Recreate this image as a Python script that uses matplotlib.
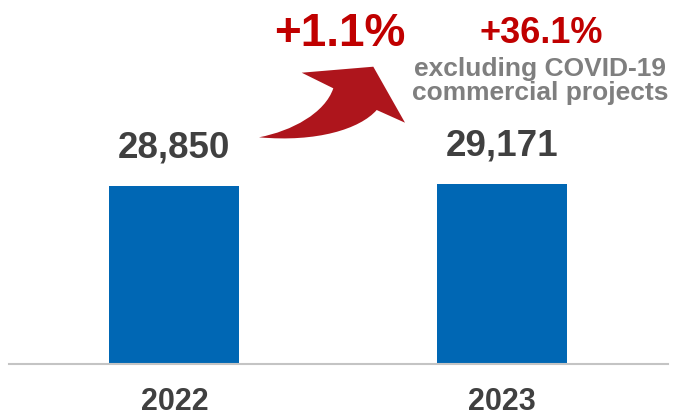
import numpy as np
import matplotlib
matplotlib.use("Agg")
import matplotlib.pyplot as plt
from matplotlib.path import Path
from matplotlib.patches import PathPatch

plt.rcParams["font.family"] = ["Liberation Sans", "DejaVu Sans"]
plt.rcParams["font.weight"] = "bold"

# ---------------------------------------------------------------------------
# Data
# ---------------------------------------------------------------------------
years = ["2022", "2023"]
values = [28850, 29171]
value_labels = ["28,850", "29,171"]
growth_label = "+1.1%"
growth_ex_label = "+36.1%"
note_lines = ["excluding COVID-19", "commercial projects"]

BLUE = "#0067B4"
RED = "#C00000"
ARROW_RED = "#AE151C"
GREY = "#7F7F7F"
DARK = "#404040"

W, H = 676, 417
fig = plt.figure(figsize=(W / 100, H / 100), dpi=100)
ax = fig.add_axes([9 / W, 53 / H, 659 / W, 364 / H])

x = np.arange(len(years))
bars = ax.bar(x, values, width=0.397, color=BLUE)

ax.set_xlim(-0.505, 1.507)
ax.set_ylim(0, 59000)
ax.set_xticks(x)
ax.set_xticklabels(years, fontsize=22, fontweight="bold", color=DARK)
ax.tick_params(axis="x", length=0, pad=16.5)
ax.set_yticks([])
for side in ["top", "left", "right"]:
    ax.spines[side].set_visible(False)
ax.spines["bottom"].set_color("#C4C4C4")
ax.spines["bottom"].set_linewidth(1.5)

for b, lab in zip(bars, value_labels):
    ax.annotate(lab, (b.get_x() + b.get_width() / 2, b.get_height()),
                xytext=(0, 15), textcoords="offset points",
                ha="center", va="bottom", fontsize=26.5,
                fontweight="bold", color=DARK)


def fx(px):
    return px / W


def fy(py):
    return 1 - py / H


# growth labels
fig.text(fx(340), fy(46), growth_label, ha="center", va="baseline",
         fontsize=33, fontweight="bold", color=RED)
fig.text(fx(541), fy(43), growth_ex_label, ha="center", va="baseline",
         fontsize=26, fontweight="bold", color=RED)
fig.text(fx(540), fy(76), note_lines[0], ha="center", va="baseline",
         fontsize=19, fontweight="bold", color=GREY)
fig.text(fx(540), fy(100), note_lines[1], ha="center", va="baseline",
         fontsize=19, fontweight="bold", color=GREY)

# curved arrow (outline in pixel coords, top-left origin)
verts = [
    (259, 137.3),
    (292, 131), (325, 113), (333.3, 88.3),
    (301.7, 72.7),
    (373.3, 66.7),
    (405, 122.7),
    (376.7, 110),
    (360, 129), (316.7, 142.5), (259, 137.3),
    (259, 137.3),
]
codes = [Path.MOVETO,
         Path.CURVE4, Path.CURVE4, Path.CURVE4,
         Path.LINETO, Path.LINETO, Path.LINETO, Path.LINETO,
         Path.CURVE4, Path.CURVE4, Path.CURVE4,
         Path.CLOSEPOLY]
arrow_path = Path([(fx(a), fy(b)) for a, b in verts], codes)
fig.patches.append(PathPatch(arrow_path, transform=fig.transFigure,
                             facecolor=ARROW_RED, edgecolor="none"))

fig.savefig("out.png", dpi=100)
